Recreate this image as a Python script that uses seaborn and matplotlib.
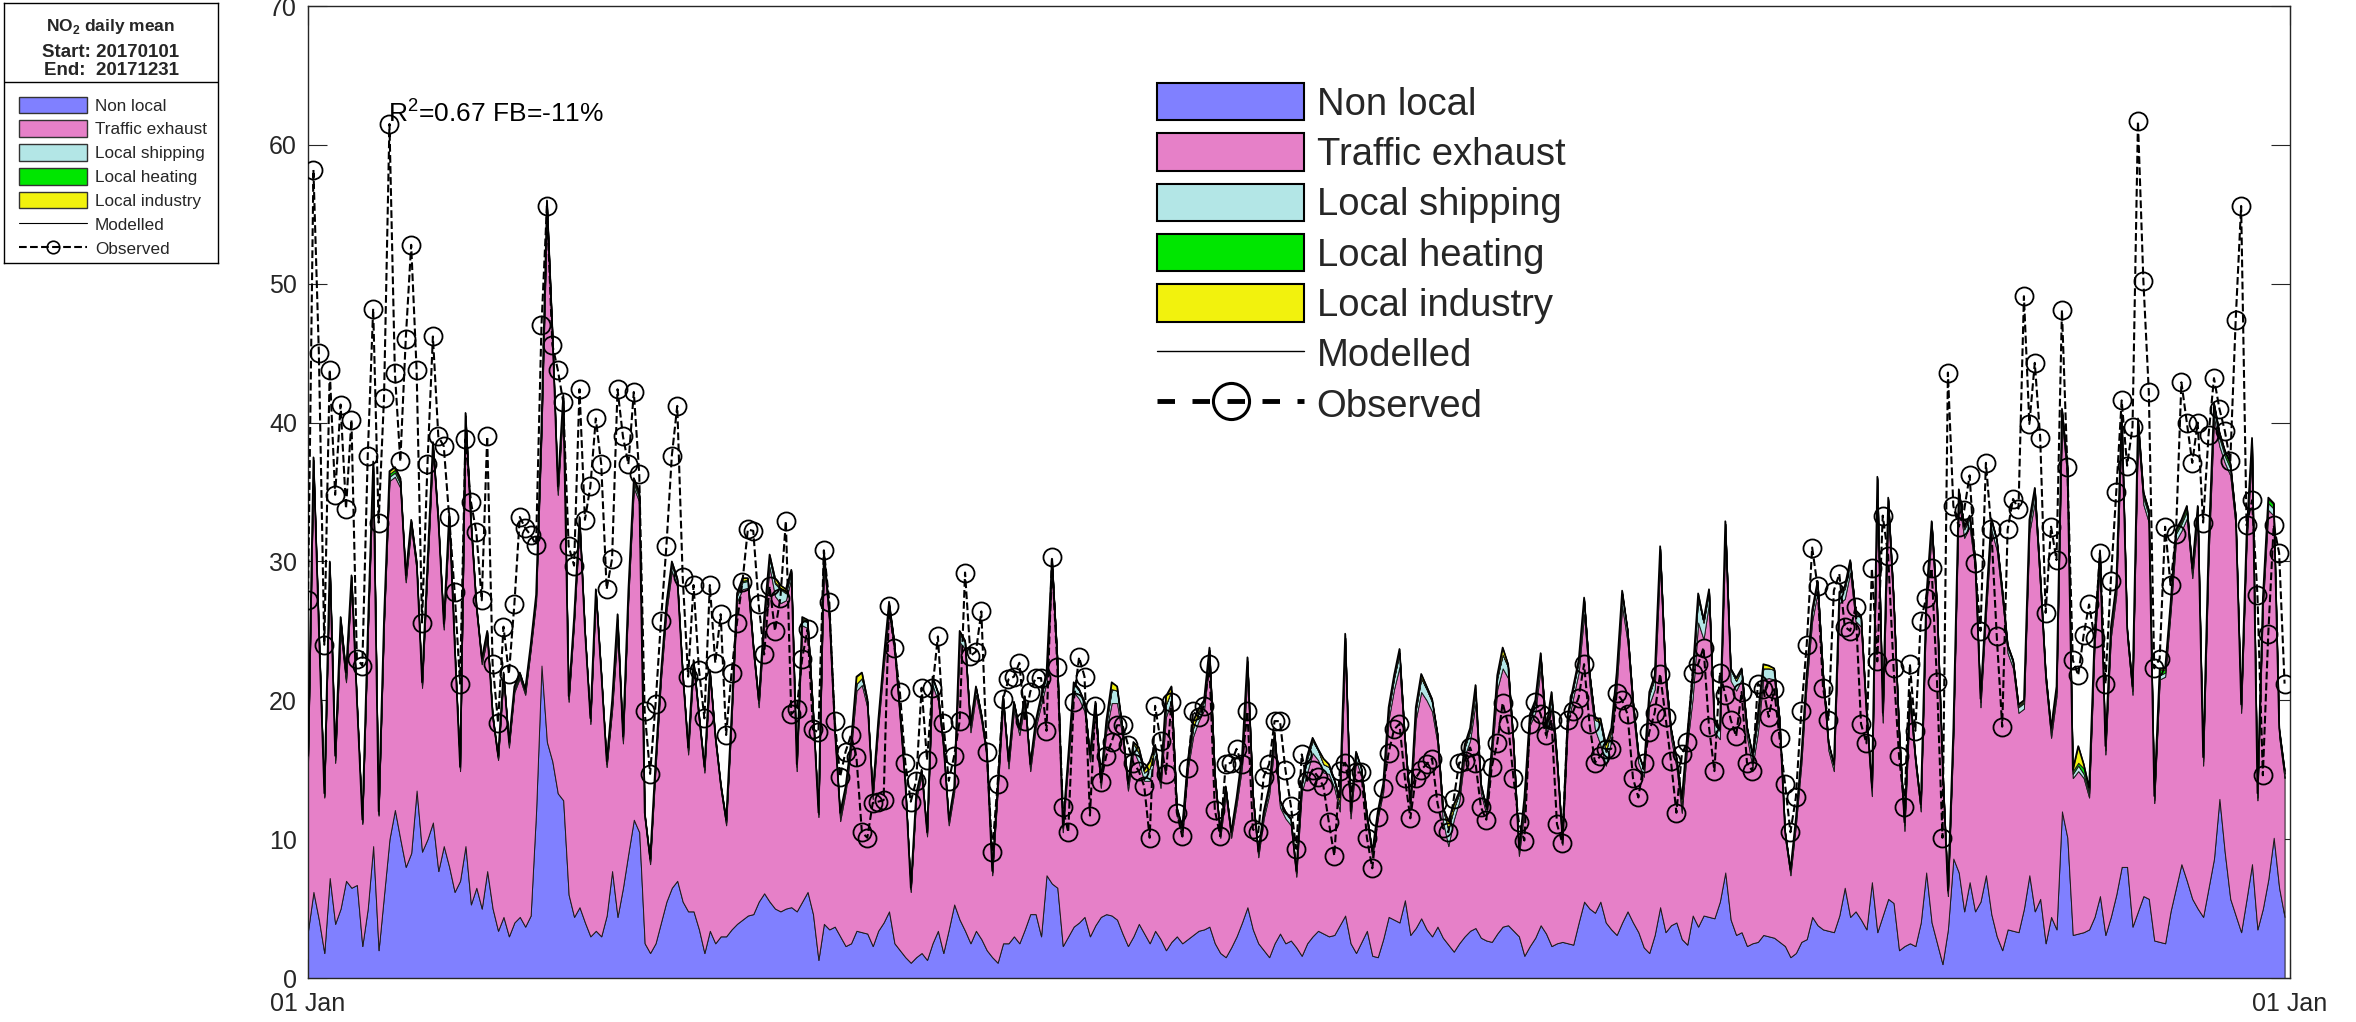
import numpy as np
import pandas as pd
import matplotlib
matplotlib.use("Agg")
import matplotlib.pyplot as plt
import matplotlib.dates as mdates
from matplotlib.patches import Patch
from matplotlib.lines import Line2D
import seaborn as sns

# Valores diarios (2017), por mes
modelled = (
    [16, 37.5, 25, 13.3, 30, 16, 26, 22, 29, 20, 11.4, 25, 37.2, 12, 26, 36.5, 36.8, 36, 29, 33, 30, 21.3, 30, 38.6, 33, 25.5, 33.5, 24, 15.2, 40.7, 33]
    + [26.9, 23, 25, 19, 16, 22, 17, 21, 22, 20.8, 24, 27.6, 40, 56, 46.6, 35.4, 42, 20.3, 26, 33.2, 25, 18.7, 28, 22, 15.6, 20, 26.2, 17.4]
    + [28, 36, 35, 11.9, 8.6, 15.6, 22, 27, 30, 28.8, 22, 16.6, 22.9, 19, 15.2, 22.2, 17.5, 14, 11.4, 19, 27.7, 28.8, 28.8, 24, 20, 26, 30.5, 28.8, 28.3, 28, 29.4]
    + [15.4, 26, 25.8, 19.4, 11.9, 30.7, 26.4, 18, 11.9, 13.8, 17, 21.7, 22, 20.1, 13.3, 18.5, 23, 27.1, 24.1, 19.2, 14, 6.5, 13.3, 15, 10.5, 21.7, 20.6, 17, 11.4, 13.8]
    + [25, 24.3, 18.2, 21, 19, 16.3, 7.7, 13.8, 20.3, 15.6, 19.9, 18, 20.3, 15.4, 18.5, 20.3, 22, 30.2, 23, 10.9, 16, 21.3, 20.8, 19.9, 16.1, 19.9, 14.2, 18.5, 21.3, 21, 18]
    + [14, 17, 16.6, 15, 15.6, 16.8, 14.2, 20.3, 21, 12.3, 10.9, 15.6, 18.5, 19.4, 20, 23.8, 14.7, 10.5, 13.8, 10.5, 13, 16, 23.1, 13.3, 9.1, 12, 13.8, 17.7, 12.8, 12]
    + [11.5, 7.7, 14, 16, 17.3, 16.5, 15.8, 15.4, 14.3, 13, 24.8, 12, 16.3, 15.1, 11.8, 9.1, 12, 14, 19.5, 21.8, 23.7, 17.3, 12.6, 19.5, 21.9, 21, 20.1, 17.6, 12.3, 11.3, 12.5]
    + [13.4, 16.8, 18, 21.1, 14, 12.3, 16.6, 21.8, 23.8, 22.6, 17, 9.3, 13, 19, 20, 23.4, 18, 20.6, 16, 10.1, 19, 21, 22.9, 27.4, 22, 18.7, 18.7, 16.8, 18, 22, 27.9]
    + [25.1, 20, 16.2, 15.1, 20.6, 21.8, 31.1, 22, 18, 15.9, 12.9, 17.6, 22, 27.7, 25.8, 28, 18.4, 17.9, 32.9, 22.3, 21.6, 22.3, 18.1, 16.1, 19, 22.6, 22.5, 22.3, 18.7, 10.6]
    + [7.8, 11.5, 16, 22, 26.5, 28.6, 22, 17, 15.4, 27.8, 28.2, 30.1, 26.5, 26.1, 19.3, 13.7, 36.1, 19.1, 34.6, 27.4, 18, 11.2, 20.6, 16, 12.5, 27.4, 32.9, 26.9, 15.4, 6.3, 18]
    + [35.2, 32.5, 33.3, 30.3, 20.1, 26.9, 33.1, 31.6, 28, 24, 22.9, 19.7, 20, 33, 35.3, 29, 22, 18, 21, 41, 36.9, 15, 16.7, 15.4, 13.7, 24.6, 30.8, 16.7, 25.2, 28.4]
    + [40.6, 25.2, 21, 40.3, 35, 33.7, 13.1, 22.3, 22.3, 27, 32.3, 33, 34, 29.5, 34, 15.9, 31.2, 41.4, 39.3, 38, 37.1, 33.3, 19.7, 32, 38.9, 13.3, 27.4, 34.6, 34.2, 18, 15]
)

observed = (
    [27.2, 58.2, 45, 24, 43.8, 34.8, 41.3, 33.8, 40.2, 23, 22.5, 37.6, 48.2, 32.8, 41.8, 61.5, 43.6, 37.2, 46, 52.8, 43.8, 25.6, 37, 46.2, 39, 38.3, 33.2, 27.8, 21.2, 38.8, 34.3]
    + [32.1, 27.2, 39, 22.6, 18.4, 25.3, 21.9, 26.9, 33.2, 32.4, 31.9, 31.2, 47, 55.6, 45.6, 43.8, 41.5, 31.1, 29.7, 42.4, 33, 35.4, 40.3, 37, 28, 30.2, 42.4, 39]
    + [37, 42.2, 36.3, 19.2, 14.7, 19.7, 25.7, 31.1, 37.6, 41.2, 28.9, 21.7, 28.3, 22.2, 18.7, 28.3, 22.7, 26.2, 17.5, 22, 25.6, 28.5, 32.3, 32.2, 26.9, 23.3, 28.2, 25, 27.4, 32.9, 19]
    + [19.4, 23, 25.1, 17.9, 17.7, 30.8, 27.1, 18.5, 14.5, 16.3, 17.5, 15.9, 10.5, 10.1, 12.6, 12.7, 12.8, 26.8, 23.8, 20.6, 15.5, 12.7, 14.2, 20.9, 15.7, 20.9, 24.6, 18.4, 14.2, 16]
    + [18.5, 29.2, 23.2, 23.5, 26.4, 16.3, 9.1, 14, 20.1, 21.5, 21.7, 22.7, 18.5, 20.6, 21.6, 21.6, 17.8, 30.3, 22.4, 12.3, 10.5, 19.9, 23.1, 21.7, 11.7, 19.6, 14.1, 16, 17, 18.2, 18.2]
    + [16.8, 15.5, 14.9, 13.8, 10.1, 19.6, 17.1, 14.7, 19.9, 11.9, 10.2, 15.1, 19.2, 18.8, 19.6, 22.6, 12.1, 10.2, 15.4, 15.5, 16.5, 15.4, 19.2, 10.7, 10.5, 14.5, 15.4, 18.5, 18.5, 15]
    + [12.4, 9.3, 16.1, 14.2, 15, 14.5, 13.8, 11.2, 8.8, 14.9, 15.5, 13.4, 14.8, 14.8, 10.1, 7.9, 11.6, 13.7, 16.2, 17.9, 18.3, 14.4, 11.5, 14.4, 15, 15.4, 15.8, 12.6, 10.8, 10.5, 12.9]
    + [15.5, 15.6, 16.6, 15.5, 12.3, 11.4, 15.2, 16.9, 19.8, 18.3, 14.4, 11.2, 9.9, 18.3, 19.9, 19, 17.5, 18.6, 11.1, 9.7, 18.6, 19.2, 20.2, 22.6, 18.3, 15.5, 16, 16.5, 16.5, 20.5, 20]
    + [19, 14.4, 13, 15.5, 17.7, 19.1, 21.9, 18.8, 15.6, 11.9, 16.1, 17, 22, 22.6, 23.8, 18.1, 14.9, 22, 20.4, 18.6, 17.4, 20.6, 15.5, 14.9, 21.2, 20.8, 18.8, 20.8, 17.3, 14]
    + [10.5, 13, 19.2, 24, 31, 28.2, 20.9, 18.6, 27.9, 29.1, 25.3, 25, 26.7, 18.3, 16.9, 29.5, 22.8, 33.3, 30.4, 22.3, 16, 12.3, 22.6, 17.8, 25.7, 27.4, 29.5, 21.3, 10.1, 43.6, 34]
    + [32.5, 33.7, 36.2, 29.9, 25, 37.1, 32.3, 24.6, 18.1, 32.3, 34.5, 33.8, 49.1, 39.9, 44.3, 38.9, 26.3, 32.5, 30.1, 48.1, 36.8, 22.9, 21.8, 24.7, 26.9, 24.5, 30.6, 21.2, 28.6, 35]
    + [41.6, 36.9, 39.7, 61.7, 50.2, 42.2, 22.3, 23, 32.5, 28.3, 32, 42.9, 40, 37.1, 40, 32.8, 39.1, 43.2, 41, 39.4, 37.2, 47.4, 55.6, 32.6, 34.4, 27.6, 14.6, 24.8, 32.6, 30.6, 21.2]
)

non_local = (
    [3.4, 6.2, 4.2, 1.8, 7.2, 3.9, 5, 7, 6.5, 6.7, 2.3, 5, 9.5, 2, 6, 10, 12.1, 10, 8, 9, 13.5, 9.1, 10, 11.2, 7.7, 9.5, 8, 6.2, 7, 9.5, 5.3]
    + [6.5, 5, 7.7, 5, 3.4, 4.4, 3, 4, 4.4, 3.7, 4.5, 12, 22.5, 17, 15.6, 13.3, 12.8, 6, 4.4, 5.1, 4, 3, 3.4, 3, 4.5, 7.7, 4.4, 6.5]
    + [9, 11.4, 10.5, 2.5, 1.8, 2.5, 4, 5.5, 6.5, 7, 5.5, 4.8, 4.8, 3.5, 1.8, 3.4, 2.5, 3, 3, 3.5, 3.9, 4.2, 4.5, 4.6, 5.5, 6.1, 5.5, 5, 4.8, 5, 5.1]
    + [4.8, 5.5, 6.2, 4.6, 1.3, 3.9, 3.5, 3.7, 3, 2.3, 2.5, 3.4, 3.3, 3.2, 2.3, 3.4, 4, 4.8, 2.5, 2, 1.5, 1.1, 1.5, 1.8, 1.3, 2.5, 3.4, 1.8, 3.5, 5.3]
    + [4.2, 3.4, 2.5, 3.4, 2.8, 2, 1.5, 1.1, 2.5, 2.5, 3, 2.5, 3.5, 4.6, 4.6, 3, 7.4, 6.8, 6.5, 2.3, 3, 3.7, 4, 4.4, 3, 3.8, 4.4, 4.6, 4.5, 4.2, 3.2]
    + [2.3, 3, 3.9, 3.2, 2.5, 3.4, 2.8, 2, 2.6, 3, 2.5, 2.8, 3.1, 3.4, 3.5, 3.7, 2.5, 1.8, 1.5, 2.2, 3, 4, 5.1, 3.5, 2.5, 2, 1.5, 2.5, 3.2, 2.5]
    + [2.7, 2.2, 1.6, 2.5, 3, 3.4, 3.2, 3, 3.1, 3.8, 4.5, 2.5, 1.8, 2.6, 3.4, 1.6, 1.5, 2.8, 4.4, 4.2, 4, 5.6, 3.1, 3.6, 4.3, 3.5, 3, 3.7, 2.9, 2.4, 1.9]
    + [2.5, 3, 3.4, 3.6, 2.9, 2.7, 2.6, 3.2, 3.7, 3.8, 3.4, 3, 1.6, 2.3, 2.9, 3.8, 3.2, 2.3, 2.5, 2.6, 2.5, 2.4, 4, 5.5, 5, 4.7, 5.5, 4, 3.5, 3.1, 4]
    + [4.8, 4, 3.3, 2.2, 1.8, 3.1, 5.1, 3.3, 3.8, 4, 2.8, 2.4, 4.5, 3.7, 4.5, 4.4, 4.3, 5.5, 7.6, 4.2, 3.1, 3.3, 2.3, 2.5, 2.6, 3.1, 3, 2.9, 2.6, 2.3]
    + [1.5, 1.8, 2.6, 2.8, 4.4, 3.8, 3.5, 3.4, 3.3, 4.5, 6.5, 4.4, 4.8, 4.2, 3.5, 6.9, 3.3, 4.5, 5.7, 5.4, 2, 2.3, 2.5, 2.3, 4, 7.6, 4, 2.5, 1, 3.5, 8.6]
    + [7.6, 4.8, 6.9, 4.8, 5.5, 7.4, 4.6, 3, 2, 3.5, 3.4, 3.3, 5, 7.4, 4.8, 5.7, 2.5, 4.4, 3.5, 12, 10.1, 3.1, 3.2, 3.3, 3.5, 4.4, 5.9, 3.1, 4.4, 6]
    + [8, 8, 3.7, 4.8, 5.9, 5.7, 2.7, 2.6, 2.5, 4.8, 6.5, 8.2, 7, 5.7, 5, 4.4, 6.5, 8.6, 12.9, 9, 5.7, 4.5, 3.3, 5.7, 8.2, 3.5, 5, 7.1, 10.1, 6.5, 4.4]
)

shipping = (
    [.2, .2, .3, .1, .2, .2, .3, .2, .2, .2, .1, .2, .3, .1, .2, .3, .3, .3, .2, .3, .2, .2, .3, .3, .2, .2, .3, .2, .1, .3, .3]
    + [.2, .2, .2, .2, .1, .2, .2, .2, .2, .2, .2, .3, .4, .5, .4, .3, .3, .2, .2, .3, .2, .2, .3, .2, .2, .3, .4, .2]
    + [.3, .3, .3, .2, .2, .3, .3, .4, .4, .4, .3, .3, .3, .3, .2, .3, .3, .2, .2, .3, .4, .5, .5, .4, .3, .4, .6, .9, 1., .5, .4]
    + [.3, .4, .4, .3, .2, .5, .6, .4, .3, .3, .4, .5, .5, .4, .3, .4, .5, .6, .5, .4, .3, .2, .3, .3, .2, .5, .5, .4, .3, .3]
    + [.6, .5, .4, .5, .4, .4, .2, .3, .5, .4, .5, .4, .5, .4, .4, .5, .6, .8, .6, .3, .4, .6, .6, .6, .4, .6, .4, .5, 1., .9, .6]
    + [.4, .5, .7, .6, .9, .6, .4, .9, .7, .4, .3, .5, .6, .7, .6, .8, .5, .3, .5, .3, .4, .6, .9, .4, .3, .4, .5, .7, .4, .4]
    + [.4, .3, .5, 1., .9, .7, .6, .5, .5, .5, .9, .4, .5, .5, .4, .3, .4, .5, .7, .8, 1., .6, .4, .7, 1., .8, .7, .6, .9, 1.2, .8]
    + [.6, .6, .7, .8, .5, .4, .6, .8, 1., .8, .6, .4, .5, .7, .7, .8, .6, .7, .6, .4, .6, .7, .8, 1., .8, .7, 1.6, 1., .7, .8, .9]
    + [.8, .7, .6, .5, .7, .8, 1., .8, .6, .6, .5, .7, 1.5, 1.8, 1.2, .9, .6, .6, 1., .8, .7, .7, .6, .8, .9, .8, .7, .7, .6, .4]
    + [.3, .4, .5, .6, .7, .7, .6, .5, .4, .7, .7, .7, .6, .6, .5, .4, .7, .5, .7, .6, .5, .4, .5, .4, .3, .6, .7, .6, .4, .2, .5]
    + [.6, .6, .6, .6, .4, .5, .6, .6, .5, .4, .4, .4, .4, .6, .7, .6, .4, .4, .4, .6, .6, .3, .4, .3, .3, .4, .5, .3, .4, .5]
    + [.6, .4, .3, .5, .5, .5, .2, .3, .3, .4, .5, .5, .5, .4, .5, .3, .5, .6, .6, .5, .5, .4, .3, .4, .5, .2, .4, .5, .5, .3, .3]
)

heating = (
    [.2, .3, .2, .1, .2, .2, .6, .4, .2, .2, .1, .2, .2, .1, .2, .2, .2, .2, .2, .2, .2, .1, .2, .2, .2, .1, .2, .2, .1, .2, .2]
    + [.2, .1, .2, .1, .1, .1, .1, .1, .1, .1, .1, .1, .2, .3, .2, .2, .2, .1, .1, .2, .1, .1, .1, .1, .1, .2, .5, .2]
    + [.2, .2, .2, .1, .1, .1, .1, .1, .1, .1, .1, .1, .1, .1, .1, .1, .1, .1, .1, .1, .1, .1, .1, .1, .1, .1, .1, .1, .1, .1, .1]
    + [.1, .1, .1, .1, 0, .1, .1, 0, 0, 0, 0, 0, 0, 0, 0, 0, 0, 0, 0, 0, 0, 0, 0, 0, 0, 0, 0, 0, 0, 0]
    + [0, 0, 0, 0, 0, 0, 0, 0, 0, 0, 0, 0, 0, 0, 0, 0, 0, 0, 0, 0, 0, 0, 0, 0, 0, 0, 0, 0, 0, 0, 0]
    + [0, 0, 0, 0, 0, 0, 0, 0, 0, 0, 0, 0, 0, 0, 0, 0, 0, 0, 0, 0, 0, 0, 0, 0, 0, 0, 0, 0, 0, 0]
    + [0, 0, 0, 0, 0, 0, 0, 0, 0, 0, 0, 0, 0, 0, 0, 0, 0, 0, 0, 0, 0, 0, 0, 0, 0, 0, 0, 0, 0, 0, 0]
    + [0, 0, 0, 0, 0, 0, 0, 0, 0, 0, 0, 0, 0, 0, 0, 0, 0, 0, 0, 0, 0, 0, 0, 0, 0, 0, 0, 0, 0, 0, 0]
    + [0, 0, 0, 0, 0, 0, 0, 0, 0, 0, 0, 0, 0, 0, 0, 0, 0, 0, 0, 0, 0, 0, 0, 0, 0, 0, 0, 0, 0, 0]
    + [0, 0, 0, 0, 0, 0, 0, 0, 0, 0, .1, .1, .1, .1, .1, .1, .1, .1, .1, .1, .1, .1, .1, .1, .1, .1, .1, .1, .1, .1, .1]
    + [.1, .1, .1, .1, .1, .1, .1, .1, .1, .1, .1, .1, .1, .2, .2, .2, .2, .2, .2, .2, .2, .2, .2, .4, .3, .2, .2, .2, .2, .2]
    + [.2, .2, .2, .3, .3, .3, .2, .4, .2, .2, .2, .2, .3, .2, .3, .2, .3, .3, .3, .3, .3, .3, .2, .2, .3, .2, .2, .3, .3, .2, .2]
)

industry = (
    [.1, .2, .1, .1, .1, .1, .2, .1, .1, .1, .1, .1, .2, .1, .1, .2, .2, .2, .1, .1, .2, .1, .1, .2, .1, .1, .2, .1, .1, .2, .1]
    + [.1, .1, .1, .1, .1, .1, .1, .1, .1, .1, .1, .1, .2, .3, .2, .1, .2, .1, .1, .1, .1, .1, .1, .1, .1, .2, .4, .1]
    + [.1, .2, .2, .1, .1, .1, .1, .1, .2, .1, .1, .1, .1, .1, .1, .1, .1, .1, .1, .1, .1, .2, .1, .1, .1, .1, .2, .3, .2, .2, .1]
    + [.1, .1, .1, .1, .1, .2, .1, .1, .3, .1, .2, .5, .4, .2, .1, .1, .1, .2, .1, .1, .1, .1, .1, .1, .1, .1, .1, .1, .1, .1]
    + [.2, .1, .1, .1, .1, .1, .1, .1, .1, .1, .1, .1, .1, .1, .1, .1, .1, .2, .1, .1, .1, .1, .1, .1, .1, .1, .1, .2, .5, .3, .1]
    + [.1, .1, .4, .2, .5, .2, .1, .6, .3, .1, .4, .1, .5, .2, .1, .2, .1, .1, .1, .1, .1, .2, .3, .1, .1, .1, .1, .2, .1, .1]
    + [.1, .1, .1, .2, .2, .1, .4, .2, .1, .5, .3, .1, .1, .1, .1, .1, .1, .1, .2, .2, .3, .1, .1, .2, .3, .2, .2, .1, .1, .6, .3]
    + [.1, .2, .2, .5, .2, .1, .1, .2, .5, .2, .1, .1, .4, .1, .2, .2, .1, .4, .2, .1, .1, .1, .1, .2, .1, .1, .3, .5, .2, .2, .2]
    + [.1, .1, .1, .1, .2, .2, .2, .1, .1, .1, .5, .1, .3, .3, .2, .1, .1, .1, .2, .1, .2, .1, .1, .1, .4, .3, .2, .1, .1, .1]
    + [.1, .1, .1, .1, .1, .1, .1, .1, .1, .1, .1, .1, .1, .1, .1, .1, .1, .1, .1, .1, .1, .1, .1, .1, .1, .1, .1, .1, .1, .1, .1]
    + [.1, .1, .1, .1, .1, .1, .1, .1, .1, .1, .1, .1, .1, .1, .1, .1, .1, .1, .1, .1, .1, .1, 1.2, .3, .1, .1, .1, .1, .1, .1]
    + [.1, .1, .1, .2, .1, .1, .1, .1, .1, .1, .1, .1, .1, .1, .1, .1, .1, .1, .1, .1, .1, .1, .1, .1, .1, .1, .1, .1, .1, .1, .1]
)

etiquetas = ["Non local", "Traffic exhaust", "Local shipping", "Local heating", "Local industry", "Modelled", "Observed"]
colores = ["#8080FF", "#E680C8", "#B3E6E6", "#00E600", "#F2F20D"]

for nombre, serie in [("modelled", modelled), ("observed", observed), ("non_local", non_local),
                      ("shipping", shipping), ("heating", heating), ("industry", industry)]:
    assert len(serie) == 365, (nombre, len(serie))

dias = pd.date_range("2017-01-01", periods=365, freq="D")
mod = np.array(modelled, dtype=float)
nl = np.array(non_local, dtype=float)
sh = np.array(shipping, dtype=float)
he = np.array(heating, dtype=float)
ind = np.array(industry, dtype=float)
# trafico = lo que queda hasta el total modelado
traffic = np.clip(mod - nl - sh - he - ind, 0, None)

df = pd.DataFrame({"fecha": dias, "modelled": nl + traffic + sh + he + ind, "observed": observed})

sns.set_style("ticks")
plt.rcParams['font.family'] = ['Liberation Sans', 'DejaVu Sans']
plt.rcParams['mathtext.fontset'] = 'custom'
plt.rcParams['mathtext.rm'] = 'Liberation Sans'
plt.rcParams['mathtext.bf'] = 'Liberation Sans:bold'

W, H = 2356, 1022
gris = "#262626"
fig = plt.figure(figsize=(W / 100, H / 100), dpi=100)
fig.patch.set_facecolor("white")

ax = fig.add_axes([308 / W, 1 - 978 / H, (2290 - 308) / W, (978 - 6) / H])

ax.stackplot(dias, nl, traffic, sh, he, ind, colors=colores,
             edgecolor="#1a1a1a", linewidth=0.7, zorder=2)

sns.lineplot(data=df, x="fecha", y="modelled", color="black", linewidth=1.2,
             ax=ax, legend=False, zorder=3)
sns.lineplot(data=df, x="fecha", y="observed", color="black", linestyle="--",
             linewidth=1.5, marker="o", markersize=13, markerfacecolor="none",
             markeredgecolor="black", markeredgewidth=1.3, ax=ax, legend=False, zorder=4)

ax.set_xlim(pd.Timestamp("2017-01-01"), pd.Timestamp("2018-01-01"))
ax.set_ylim(0, 70)
ax.set_yticks(range(0, 71, 10))
ax.set_xticks([pd.Timestamp("2017-01-01"), pd.Timestamp("2018-01-01")])
ax.xaxis.set_major_formatter(mdates.DateFormatter("%d %b"))
ax.set_xlabel("")
ax.set_ylabel("")
for lado in ["top", "right", "bottom", "left"]:
    ax.spines[lado].set_visible(True)
    ax.spines[lado].set_color(gris)
    ax.spines[lado].set_linewidth(1.0)
ax.tick_params(axis="both", direction="in", length=14, width=0.8, colors=gris,
               labelsize=18, top=True, right=True)
ax.tick_params(axis="y", pad=8)
ax.tick_params(axis="x", pad=10)

ax.text(pd.Timestamp("2017-01-01") + pd.Timedelta(days=14.7), 62.3,
        "R$^2$=0.67 FB=-11%", fontsize=19, ha="left", va="center", color="black")

# leyenda grande dentro del grafico
handles = [Patch(facecolor=c, edgecolor="black", linewidth=1.5) for c in colores]
handles.append(Line2D([0], [0], color="black", linewidth=1.0))
handles.append(Line2D([0], [0], color="black", linestyle=(0, (3.6, 3.6)), linewidth=3.5,
                      marker="o", markersize=26, markerfacecolor="none", markeredgewidth=2.2))
ax.legend(handles, etiquetas, loc="upper left", bbox_to_anchor=(1157 / W, 1 - 83 / H),
          bbox_transform=fig.transFigure, frameon=False, fontsize=27.5,
          handlelength=3.85, handleheight=1.13, labelspacing=0.28, handletextpad=0.33,
          borderpad=0, borderaxespad=0)

# caja de la izquierda
axb = fig.add_axes([4 / W, 1 - 263 / H, 214 / W, 260 / H])
axb.set_xticks([])
axb.set_yticks([])
for lado in ["top", "right", "bottom", "left"]:
    axb.spines[lado].set_visible(True)
    axb.spines[lado].set_color("black")
    axb.spines[lado].set_linewidth(1.0)
axb.set_xlim(0, 1)
axb.set_ylim(0, 1)
axb.text(0.5, 0.91, r"NO$_\mathbf{2}$ daily mean", ha="center", va="center",
         fontsize=12.5, fontweight="bold")
axb.text(0.5, 0.81, "Start: 20170101", ha="center", va="center", fontsize=13.5, fontweight="bold")
axb.text(0.5, 0.742, "End:  20171231", ha="center", va="center", fontsize=13.5, fontweight="bold")
axb.axhline(0.696, color="black", linewidth=1.0)

handles_b = [Patch(facecolor=c, edgecolor="#333333", linewidth=1.0) for c in colores]
handles_b.append(Line2D([0], [0], color="black", linewidth=0.8))
handles_b.append(Line2D([0], [0], color="black", linestyle="--", linewidth=1.5,
                        marker="o", markersize=9, markerfacecolor="none", markeredgewidth=1.2))
axb.legend(handles_b, etiquetas, loc="upper left", bbox_to_anchor=(0.07, 0.64),
           frameon=False, fontsize=12.3, handlelength=4.0, handleheight=1.1,
           labelspacing=0.4, handletextpad=0.45, borderpad=0, borderaxespad=0)

fig.savefig("out.png", dpi=100)
